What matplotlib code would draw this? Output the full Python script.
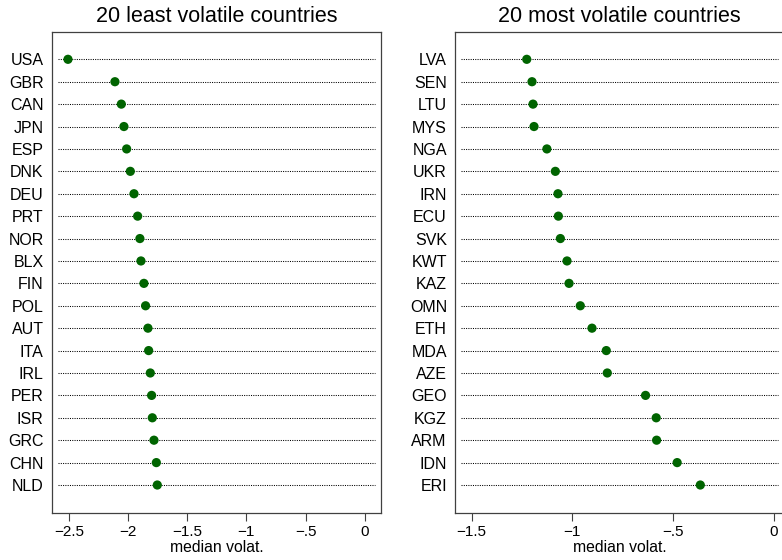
import matplotlib
matplotlib.use("Agg")
import matplotlib.pyplot as plt

plt.rcParams['font.family'] = ['Liberation Sans', 'DejaVu Sans']

least_countries = ["USA", "GBR", "CAN", "JPN", "ESP", "DNK", "DEU", "PRT", "NOR", "BLX",
                   "FIN", "POL", "AUT", "ITA", "IRL", "PER", "ISR", "GRC", "CHN", "NLD"]
least_values = [-2.508, -2.111, -2.057, -2.035, -2.012, -1.981, -1.950, -1.919, -1.900, -1.891,
                -1.866, -1.852, -1.832, -1.826, -1.812, -1.801, -1.795, -1.781, -1.761, -1.753]

most_countries = ["LVA", "SEN", "LTU", "MYS", "NGA", "UKR", "IRN", "ECU", "SVK", "KWT",
                  "KAZ", "OMN", "ETH", "MDA", "AZE", "GEO", "KGZ", "ARM", "IDN", "ERI"]
most_values = [-1.226, -1.200, -1.195, -1.190, -1.126, -1.084, -1.071, -1.069, -1.059, -1.026,
               -1.016, -0.960, -0.902, -0.831, -0.826, -0.636, -0.583, -0.581, -0.479, -0.364]

left_ticks = [-2.5, -2, -1.5, -1, -0.5, 0]
left_ticklabels = ["\u22122.5", "\u22122", "\u22121.5", "\u22121", "\u2212.5", "0"]
right_ticks = [-1.5, -1, -0.5, 0]
right_ticklabels = ["\u22121.5", "\u22121", "\u2212.5", "0"]

titles = ["20 least volatile countries", "20 most volatile countries"]
xlabel = "median volat."

fig = plt.figure(figsize=(7.82, 5.60), dpi=100)
ax1 = fig.add_axes([0.0665, 0.0839, 0.4207, 0.859])
ax2 = fig.add_axes([0.5822, 0.0839, 0.4207, 0.859])

green = "#006400"
frame_color = "#404040"

panels = [
    (ax1, least_countries, least_values, left_ticks, left_ticklabels, (-2.643, 0.138), titles[0]),
    (ax2, most_countries, most_values, right_ticks, right_ticklabels, (-1.581, 0.053), titles[1]),
]

for ax, cats, vals, ticks, tlabels, xlim, title in panels:
    ypos = list(range(len(cats)))
    for y in ypos:
        ax.axhline(y, xmin=0.018, xmax=0.982, color="black", linestyle=(0, (1, 1.2)),
                   linewidth=0.75, zorder=1)
    ax.scatter(vals, ypos, s=44, color=green, zorder=3, edgecolors="none")
    ax.set_xlim(*xlim)
    ax.set_ylim(len(cats) - 1 + 1.25, -1.22)
    ax.set_yticks(ypos)
    ax.set_yticklabels(cats, fontsize=11.5)
    ax.tick_params(axis="y", length=0, pad=6)
    ax.set_xticks(ticks)
    ax.set_xticklabels(tlabels, fontsize=11)
    ax.tick_params(axis="x", length=6, width=0.8, color=frame_color, pad=2.5)
    ax.set_xlabel(xlabel, fontsize=11.3, labelpad=1)
    ax.set_title(title, fontsize=15.5, pad=7)
    for sp in ax.spines.values():
        sp.set_color(frame_color)
        sp.set_linewidth(0.9)

fig.savefig("out.png", dpi=100)
